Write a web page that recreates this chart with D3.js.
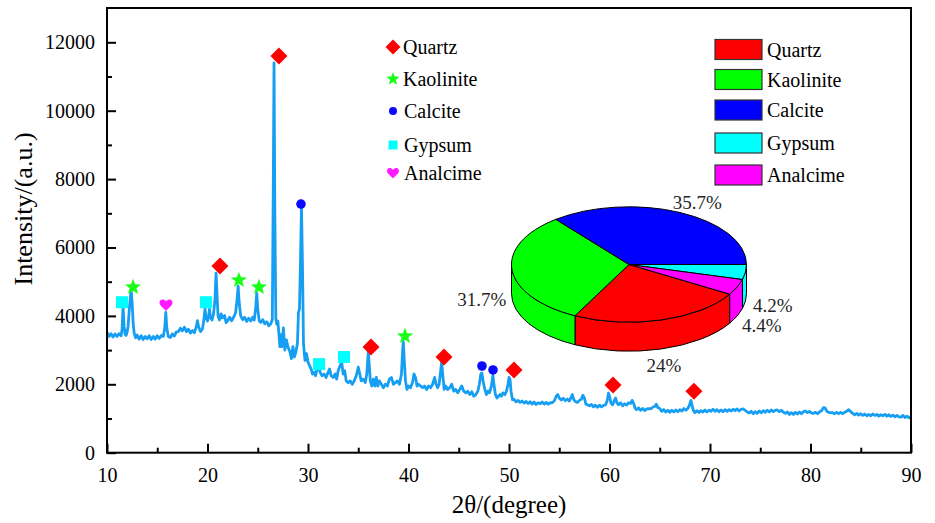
<!DOCTYPE html>
<html>
<head>
<meta charset="utf-8">
<script src="https://cdn.jsdelivr.net/npm/d3@7"></script>
<style>
  html, body { margin: 0; padding: 0; background: #fff; }
  svg { display: block; }
  svg text { font-family: "Liberation Serif", "Times New Roman", serif; }
</style>
</head>
<body>
<svg id="chart" width="935" height="523"></svg>
<script>
// XRD scan: [2θ (degree), intensity (a.u.)]
const scan = [
  [10.0,3520],[10.2,3400],[10.4,3480],[10.6,3380],[10.8,3470],[11.0,3400],[11.2,3480],[11.4,3420],
  [11.5,3600],[11.6,4280],[11.7,3700],[11.8,3460],[11.9,3430],[12.0,3520],[12.1,3700],[12.25,4300],
  [12.4,4750],[12.5,4400],[12.6,3800],[12.7,3500],[12.85,3360],[13.0,3440],[13.2,3320],[13.4,3420],
  [13.6,3310],[13.8,3400],[14.0,3330],[14.2,3420],[14.4,3310],[14.6,3400],[14.8,3320],[15.0,3420],
  [15.2,3340],[15.4,3430],[15.6,3400],[15.75,3650],[15.85,4100],[15.95,3650],[16.1,3400],[16.3,3370],
  [16.5,3470],[16.7,3410],[16.9,3530],[17.1,3540],[17.3,3640],[17.5,3560],[17.7,3670],[17.9,3540],
  [18.1,3610],[18.3,3500],[18.5,3570],[18.7,3510],[18.9,3700],[19.0,3860],[19.1,3700],[19.3,3540],
  [19.5,3620],[19.65,3900],[19.75,4220],[19.85,3950],[20.0,3850],[20.1,3980],[20.2,4200],[20.3,3950],
  [20.45,3880],[20.6,4050],[20.75,4500],[20.85,5250],[20.95,4600],[21.05,4000],[21.2,3880],[21.35,4060],
  [21.5,3940],[21.7,4010],[21.85,3800],[22.0,3860],[22.2,3960],[22.4,3860],[22.6,3960],[22.8,4100],
  [22.95,4500],[23.05,4870],[23.15,4400],[23.3,4000],[23.5,3890],[23.7,3960],[23.9,3840],[24.1,3930],
  [24.3,3850],[24.5,3960],[24.65,3880],[24.8,4250],[24.9,4660],[25.0,4200],[25.15,3850],[25.3,3810],
  [25.5,3890],[25.7,3770],[25.9,3830],[26.1,3710],[26.3,3770],[26.45,3900],[26.55,8000],[26.62,11400],
  [26.7,7000],[26.8,3900],[26.9,3750],[27.0,3850],[27.1,3500],[27.2,3100],[27.3,3450],[27.4,3100],
  [27.55,3650],[27.7,3000],[27.85,3300],[28.0,3100],[28.2,2950],[28.35,2750],[28.5,3100],[28.65,2800],
  [28.8,2950],[28.95,3200],[29.05,4100],[29.15,4200],[29.25,5500],[29.35,7200],[29.45,5500],[29.55,3200],
  [29.7,2700],[29.85,2900],[30.0,2650],[30.15,2550],[30.3,2450],[30.45,2300],[30.6,2350],[30.75,2250],
  [30.9,2450],[31.05,2550],[31.2,2350],[31.4,2250],[31.6,2300],[31.8,2200],[32.0,2350],[32.15,2450],
  [32.3,2250],[32.5,2200],[32.7,2300],[32.85,2150],[33.0,2400],[33.2,2550],[33.35,2650],[33.5,2300],
  [33.65,2400],[33.8,2100],[34.0,2050],[34.2,2100],[34.4,2000],[34.6,2100],[34.8,2250],[35.0,2500],
  [35.15,2300],[35.3,2100],[35.5,2150],[35.7,2050],[35.85,2300],[36.0,2950],[36.1,2550],[36.2,2100],
  [36.35,1950],[36.5,2150],[36.65,1950],[36.8,2200],[36.95,1950],[37.1,2100],[37.3,2000],[37.5,1900],
  [37.7,2000],[37.9,1950],[38.1,2150],[38.3,2200],[38.5,2000],[38.7,2050],[38.9,2100],[39.1,2000],
  [39.3,2300],[39.4,2900],[39.48,3250],[39.56,2800],[39.7,2100],[39.85,1850],[40.0,1950],[40.2,1900],
  [40.4,2050],[40.55,2300],[40.7,2200],[40.85,1950],[41.0,2000],[41.2,1950],[41.4,1900],[41.6,1950],
  [41.8,1850],[42.0,1950],[42.2,1900],[42.4,2000],[42.6,2200],[42.75,2000],[42.9,1900],[43.05,2000],
  [43.2,2400],[43.3,2650],[43.4,2300],[43.55,1850],[43.7,1950],[43.9,1850],[44.1,1900],[44.3,2000],
  [44.5,1800],[44.7,1850],[44.9,1750],[45.1,1850],[45.3,1950],[45.5,1800],[45.7,1750],[45.9,1800],
  [46.1,1700],[46.3,1780],[46.5,1650],[46.7,1700],[46.9,1800],[47.05,2000],[47.2,2300],[47.3,2330],
  [47.45,2050],[47.6,1850],[47.75,1700],[47.9,1800],[48.05,1750],[48.25,1950],[48.4,2270],[48.5,2000],
  [48.65,1700],[48.8,1600],[48.95,1650],[49.1,1700],[49.25,1650],[49.4,1750],[49.6,1700],[49.75,1800],
  [49.9,2000],[50.0,2200],[50.1,2150],[50.2,1800],[50.35,1550],[50.5,1560],[50.7,1490],[50.9,1530],
  [51.1,1470],[51.3,1510],[51.5,1450],[51.7,1500],[51.9,1440],[52.1,1490],[52.3,1420],[52.5,1480],
  [52.7,1410],[52.9,1460],[53.1,1430],[53.3,1480],[53.5,1420],[53.7,1470],[53.9,1420],[54.1,1460],
  [54.3,1460],[54.5,1510],[54.7,1650],[54.85,1700],[55.0,1600],[55.2,1540],[55.4,1590],[55.6,1520],
  [55.8,1570],[56.0,1510],[56.15,1600],[56.3,1700],[56.45,1550],[56.6,1500],[56.8,1470],[57.0,1530],
  [57.2,1560],[57.35,1680],[57.5,1600],[57.65,1420],[57.8,1400],[58.0,1370],[58.2,1410],[58.4,1340],
  [58.6,1390],[58.8,1330],[59.0,1390],[59.2,1340],[59.4,1380],[59.6,1400],[59.75,1500],[59.9,1740],
  [60.0,1650],[60.15,1450],[60.3,1400],[60.45,1500],[60.6,1600],[60.75,1450],[60.9,1400],[61.1,1460],
  [61.3,1370],[61.5,1430],[61.7,1390],[61.9,1460],[62.1,1440],[62.25,1530],[62.4,1440],[62.55,1300],
  [62.7,1260],[62.9,1310],[63.1,1240],[63.3,1290],[63.5,1230],[63.7,1280],[63.9,1290],[64.1,1280],
  [64.3,1330],[64.5,1350],[64.65,1420],[64.8,1320],[65.0,1290],[65.2,1210],[65.4,1260],[65.6,1190],
  [65.8,1240],[66.0,1180],[66.2,1240],[66.4,1190],[66.6,1250],[66.8,1200],[67.0,1260],[67.2,1220],
  [67.4,1290],[67.6,1240],[67.8,1300],[67.95,1380],[68.1,1530],[68.2,1400],[68.35,1230],[68.5,1170],
  [68.7,1230],[68.9,1180],[69.1,1230],[69.3,1190],[69.5,1250],[69.7,1190],[69.9,1240],[70.1,1210],
  [70.3,1270],[70.5,1210],[70.7,1260],[70.9,1200],[71.1,1250],[71.3,1200],[71.5,1260],[71.7,1210],
  [71.9,1260],[72.1,1220],[72.3,1270],[72.5,1230],[72.7,1280],[72.9,1220],[73.1,1270],[73.3,1280],
  [73.5,1240],[73.7,1190],[73.9,1160],[74.1,1210],[74.3,1140],[74.5,1200],[74.7,1150],[74.9,1220],
  [75.1,1170],[75.3,1230],[75.5,1180],[75.7,1240],[75.9,1190],[76.1,1250],[76.3,1200],[76.5,1240],
  [76.7,1250],[76.9,1200],[77.1,1240],[77.3,1180],[77.5,1150],[77.7,1190],[77.9,1120],[78.1,1170],
  [78.3,1120],[78.5,1180],[78.7,1130],[78.9,1190],[79.1,1140],[79.3,1200],[79.5,1220],[79.7,1170],
  [79.9,1210],[80.1,1160],[80.3,1150],[80.5,1180],[80.7,1140],[80.9,1200],[81.1,1230],[81.3,1320],
  [81.45,1310],[81.6,1220],[81.8,1180],[82.0,1170],[82.2,1170],[82.4,1140],[82.6,1180],[82.8,1140],
  [83.0,1180],[83.2,1140],[83.4,1180],[83.6,1210],[83.8,1260],[84.0,1200],[84.2,1150],[84.4,1110],
  [84.6,1150],[84.8,1100],[85.0,1140],[85.2,1090],[85.4,1130],[85.6,1080],[85.8,1120],[86.0,1080],
  [86.2,1130],[86.4,1090],[86.6,1120],[86.8,1070],[87.0,1110],[87.2,1080],[87.4,1120],[87.6,1070],
  [87.8,1110],[88.0,1060],[88.2,1100],[88.4,1050],[88.6,1090],[88.8,1050],[89.0,1040],[89.2,1090],
  [89.4,1030],[89.6,1070],[89.8,1020],[90.0,1050]
];

// Peak identification markers: [2θ, intensity]
const quartzPeaks    = [[21.24,5460],[27.11,11600],[36.27,3090],[43.53,2800],[50.5,2420],[60.35,1980],[68.4,1800]];
const kaolinitePeaks = [[12.59,4840],[23.13,5045],[25.12,4840],[39.65,3410]];
const calcitePeaks   = [[29.3,7270],[47.31,2535],[48.41,2420]];
const gypsumPeaks    = [[11.49,4400],[19.85,4400],[31.1,2590],[33.58,2800]];
const analcimePeaks  = [[15.87,4320]];

// Mineral composition (%)
const phaseNames  = ["Quartz","Kaolinite","Calcite","Gypsum","Analcime"];
const phaseShare  = [24, 31.7, 35.7, 4.2, 4.4];
const phaseLabels = ["24%","31.7%","35.7%","4.2%","4.4%"];
const phaseColors = ["#ff0000","#00ff00","#0000ff","#00ffff","#ff00ff"];

// Axis ticks
const xMajor = [10,20,30,40,50,60,70,80,90];
const xMinor = [15,25,35,45,55,65,75,85];
const yMajor = [0,2000,4000,6000,8000,10000,12000];
const yMinor = [1000,3000,5000,7000,9000,11000];

const SERIF = '"Liberation Serif", "Times New Roman", serif';
const svg = d3.select("#chart").attr("font-family", SERIF);
const plot = {left: 107, top: 8, right: 911, bottom: 452.7};

const x = d3.scaleLinear().domain([10, 90]).range([plot.left, plot.right]);
const y = d3.scaleLinear().domain([0, 13000]).range([plot.bottom, 8.1]);

// ---------- marker shapes ----------
const shapes = {
  diamond: s => `M0,${-s}L${s},0L0,${s}L${-s},0Z`,
  star: r => {
    const ri = r * 0.42;
    let p = "";
    for (let i = 0; i < 10; i++) {
      const a = -Math.PI / 2 + i * Math.PI / 5;
      const rr = i % 2 ? ri : r;
      p += (i ? "L" : "M") + (rr * Math.cos(a)).toFixed(2) + "," + (rr * Math.sin(a)).toFixed(2);
    }
    return p + "Z";
  },
  circle: r => `M${r},0A${r},${r} 0 1,1 ${-r},0A${r},${r} 0 1,1 ${r},0Z`,
  square: s => `M${-s},${-s}H${s}V${s}H${-s}Z`,
  heart: s => {
    const k = s / 6.5;
    return `M0,${6*k}C${-2*k},${3*k} ${-6.5*k},${1*k} ${-6.5*k},${-2.5*k}C${-6.5*k},${-5.8*k} ${-2.5*k},${-6.8*k} 0,${-3.6*k}C${2.5*k},${-6.8*k} ${6.5*k},${-5.8*k} ${6.5*k},${-2.5*k}C${6.5*k},${1*k} ${2*k},${3*k} 0,${6*k}Z`;
  }
};

const markerSets = [
  {name: "Quartz",    peaks: quartzPeaks,    color: "#ff0000", shape: "diamond", size: 8.5, legSize: 7.5},
  {name: "Kaolinite", peaks: kaolinitePeaks, color: "#1aff1a", shape: "star",    size: 8.5, legSize: 7},
  {name: "Calcite",   peaks: calcitePeaks,   color: "#0a0aff", shape: "circle",  size: 4.8, legSize: 4},
  {name: "Gypsum",    peaks: gypsumPeaks,    color: "#00ffff", shape: "square",  size: 6,   legSize: 4.5},
  {name: "Analcime",  peaks: analcimePeaks,  color: "#ff1aff", shape: "heart",   size: 6.5, legSize: 6}
];

// ---------- axes ----------
const gx = svg.append("g").attr("transform", `translate(0,${plot.bottom})`);
gx.call(d3.axisBottom(x).tickValues(xMajor).tickSize(-9).tickPadding(15).tickFormat(d3.format("d")));
const gxm = svg.append("g").attr("transform", `translate(0,${plot.bottom})`);
gxm.call(d3.axisBottom(x).tickValues(xMinor).tickSize(-5).tickFormat(""));

const gy = svg.append("g").attr("transform", `translate(${plot.left},0)`);
gy.call(d3.axisLeft(y).tickValues(yMajor).tickSize(-9).tickPadding(12).tickFormat(d3.format("d")));
const gym = svg.append("g").attr("transform", `translate(${plot.left},0)`);
gym.call(d3.axisLeft(y).tickValues(yMinor).tickSize(-5).tickFormat(""));

[gx, gxm, gy, gym].forEach(g => {
  g.attr("font-family", SERIF).attr("font-size", 20);
  g.select(".domain").remove();
  g.selectAll(".tick line").attr("stroke", "#000").attr("stroke-width", 2);
  g.selectAll(".tick text").attr("fill", "#000");
});

// ---------- XRD curve ----------
svg.append("clipPath").attr("id", "plotClip")
  .append("rect").attr("x", plot.left).attr("y", plot.top)
  .attr("width", plot.right - plot.left).attr("height", plot.bottom - plot.top);

const line = d3.line().x(d => x(d[0])).y(d => y(d[1]));
svg.append("path")
  .datum(scan)
  .attr("clip-path", "url(#plotClip)")
  .attr("fill", "none")
  .attr("stroke", "#169ef2")
  .attr("stroke-width", 2.8)
  .attr("stroke-linejoin", "round")
  .attr("d", line);

// frame
svg.append("rect")
  .attr("x", plot.left).attr("y", plot.top)
  .attr("width", plot.right - plot.left).attr("height", plot.bottom - plot.top)
  .attr("fill", "none").attr("stroke", "#000").attr("stroke-width", 2);

// peak markers
markerSets.forEach(m => {
  svg.append("g").selectAll("path").data(m.peaks).join("path")
    .attr("transform", d => `translate(${x(d[0])},${y(d[1])})`)
    .attr("d", shapes[m.shape](m.size))
    .attr("fill", m.color);
});

// ---------- marker legend ----------
const markerLegendRows = [47, 79, 111, 145, 173];
const mLeg = svg.append("g").attr("font-size", 20);
markerSets.forEach((m, i) => {
  const cy = markerLegendRows[i];
  mLeg.append("path").attr("transform", `translate(393,${cy})`)
    .attr("d", shapes[m.shape](m.legSize)).attr("fill", m.color);
  mLeg.append("text").attr("x", 403 + (i >= 2 ? 1 : 0)).attr("y", cy + 7)
    .attr("fill", "#000").text(m.name);
});

// ---------- composition legend ----------
const pieLegendRows = [39.5, 69.5, 100, 133, 165];
const pLeg = svg.append("g").attr("font-size", 20);
phaseNames.forEach((n, i) => {
  const top = pieLegendRows[i];
  pLeg.append("rect").attr("x", 715).attr("y", top).attr("width", 47).attr("height", 20)
    .attr("fill", phaseColors[i]).attr("stroke", "#333").attr("stroke-width", 1.2);
  pLeg.append("text").attr("x", 767).attr("y", top + 17)
    .attr("fill", "#000").text(n);
});

// ---------- 3D pie ----------
const pc = {cx: 629, cy: 264.5, rx: 117.5, ry: 57.7, depth: 29};
const total = d3.sum(phaseShare);
// rotate so that Gypsum begins due east
const lead = d3.sum(phaseShare.slice(0, 3)) / total * 2 * Math.PI;
const pie = d3.pie().sort(null)
  .startAngle(Math.PI / 2 - lead)
  .endAngle(Math.PI / 2 - lead + 2 * Math.PI);
const arcs = pie(phaseShare);
const scr = a => a - Math.PI / 2;                 // d3 angle -> screen angle (clockwise from east)
const pt = (a, dy = 0) => [pc.cx + pc.rx * Math.cos(a), pc.cy + pc.ry * Math.sin(a) + dy];
const f = p => p[0].toFixed(2) + "," + p[1].toFixed(2);

const pieG = svg.append("g");
// side walls (front half only)
arcs.forEach((a, i) => {
  let a0 = scr(a.startAngle), a1 = scr(a.endAngle);
  const shift = Math.floor(a0 / (2 * Math.PI)) * 2 * Math.PI;
  a0 -= shift; a1 -= shift;
  [[0, Math.PI], [2 * Math.PI, 3 * Math.PI]].forEach(([lo, hi]) => {
    const b0 = Math.max(a0, lo), b1 = Math.min(a1, hi);
    if (b1 - b0 > 1e-6) {
      const d = `M${f(pt(b0))}A${pc.rx},${pc.ry} 0 0,1 ${f(pt(b1))}` +
                `L${f(pt(b1, pc.depth))}A${pc.rx},${pc.ry} 0 0,0 ${f(pt(b0, pc.depth))}Z`;
      pieG.append("path").attr("d", d).attr("fill", phaseColors[i])
        .attr("stroke", "#000").attr("stroke-width", 1).attr("stroke-linejoin", "round");
    }
  });
});
// top faces
arcs.forEach((a, i) => {
  const a0 = scr(a.startAngle), a1 = scr(a.endAngle);
  const large = (a1 - a0) > Math.PI ? 1 : 0;
  const d = `M${pc.cx},${pc.cy}L${f(pt(a0))}A${pc.rx},${pc.ry} 0 ${large},1 ${f(pt(a1))}Z`;
  pieG.append("path").attr("d", d).attr("fill", phaseColors[i])
    .attr("stroke", "#000").attr("stroke-width", 1).attr("stroke-linejoin", "round");
});
// percentage labels placed outside each slice
const labelNudge = [[-3.5, 5], [-7, -1], [7, 0], [4, 3], [3, 5]];
arcs.forEach((a, i) => {
  const mid = scr((a.startAngle + a.endAngle) / 2);
  const s = Math.sin(mid);
  const lx = pc.cx + 1.2 * pc.rx * Math.cos(mid) + labelNudge[i][0];
  const ly = pc.cy + 1.2 * pc.ry * s + (s > 0 ? pc.depth : 0) + labelNudge[i][1];
  pieG.append("text").attr("x", lx).attr("y", ly).attr("dy", "0.35em")
    .attr("text-anchor", "middle").attr("font-size", 19).attr("fill", "#262626")
    .text(phaseLabels[i]);
});

// ---------- axis titles ----------
svg.append("text").attr("x", (plot.left + plot.right) / 2).attr("y", 513)
  .attr("text-anchor", "middle").attr("font-size", 25).attr("fill", "#000")
  .text("2θ/(degree)");
svg.append("text").attr("transform", "translate(32,209) rotate(-90)")
  .attr("text-anchor", "middle").attr("font-size", 26).attr("fill", "#000")
  .text("Intensity/(a.u.)");
</script>
</body>
</html>
